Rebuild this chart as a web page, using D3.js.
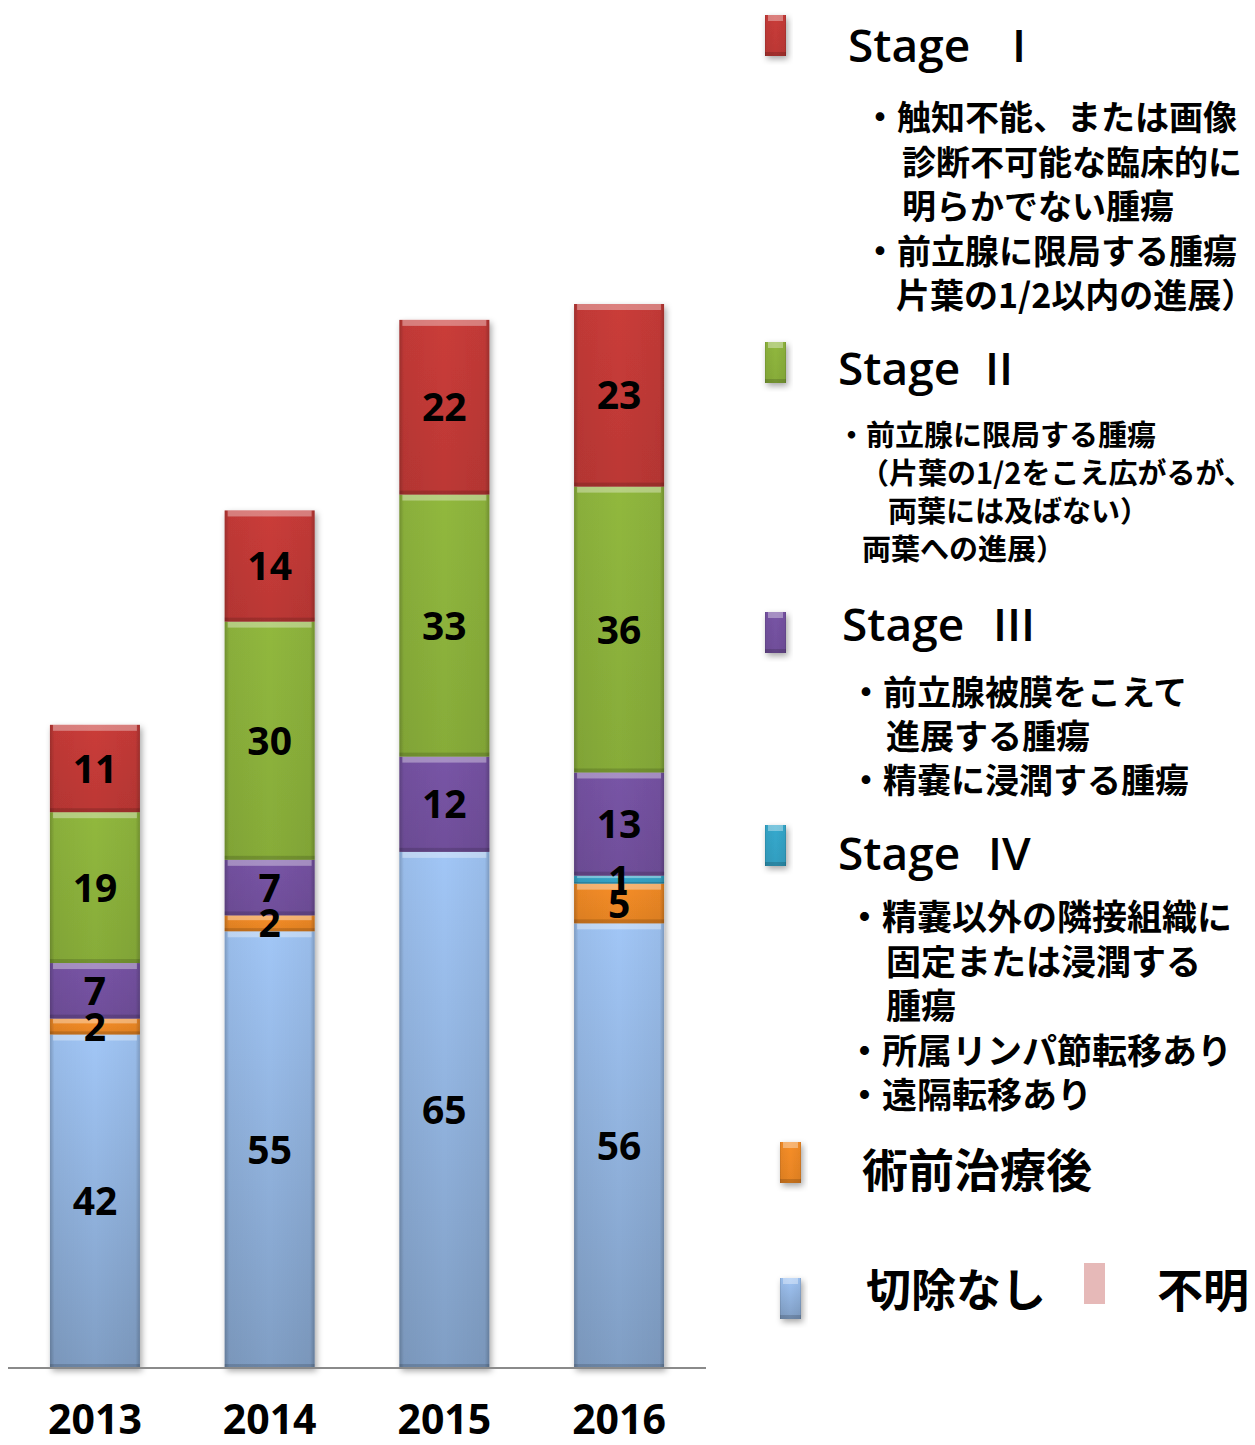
<!DOCTYPE html>
<html><head><meta charset="utf-8">
<script src="https://cdn.jsdelivr.net/npm/d3@7"></script>
<style>body{margin:0;background:#fff}svg{display:block}</style>
</head><body>
<script>
// ---------- DATA ----------
const years = ["2013", "2014", "2015", "2016"];
const seriesNames = ["切除なし", "術前治療後", "Stage IV", "Stage III", "Stage II", "Stage I", "不明"];
const noResection = [42, 55, 65, 56];
const preoperative = [2, 2, 0, 5];
const stage4 = [0, 0, 0, 1];
const stage3 = [7, 7, 12, 13];
const stage2 = [19, 30, 33, 36];
const stage1 = [11, 14, 22, 23];
const unknown = [0, 0, 0, 0];
const seriesValues = [noResection, preoperative, stage4, stage3, stage2, stage1, unknown];
const seriesColors = ["#93B5E1", "#F08A26", "#34A5C8", "#7552A1", "#8DB33C", "#C43A37", "#E6B9B8"];

const stageNumerals = ["I", "II", "III", "IV"];
const stage1Notes = ["・触知不能、または画像", "診断不可能な臨床的に", "明らかでない腫瘍", "・前立腺に限局する腫瘍", "片葉の1/2以内の進展）"];
const stage2Notes = ["・前立腺に限局する腫瘍", "（片葉の1/2をこえ広がるが、", "両葉には及ばない）", "両葉への進展）"];
const stage3Notes = ["・前立腺被膜をこえて", "進展する腫瘍", "・精嚢に浸潤する腫瘍"];
const stage4Notes = ["・精嚢以外の隣接組織に", "固定または浸潤する", "腫瘍", "・所属リンパ節転移あり", "・遠隔転移あり"];

// ---------- SETUP ----------
const W = 1255, H = 1445;
const svg = d3.select("body").append("svg").attr("width", W).attr("height", H);
const defs = svg.append("defs");

const rows = years.map((y, i) => {
  const r = { year: y };
  seriesNames.forEach((s, k) => r[s] = seriesValues[k][i]);
  return r;
});
const stacked = d3.stack().keys(seriesNames)(rows);

const x = d3.scaleBand().domain(years).range([7.5, 706.5]).paddingInner(0.485).paddingOuter(0.243);
const y = d3.scaleLinear().domain([0, 134]).range([1368, 304]);

// gradients
seriesColors.forEach((c, i) => {
  const g = defs.append("linearGradient").attr("id", "v" + i).attr("x1", 0).attr("y1", 0).attr("x2", 0).attr("y2", 1);
  const base = d3.color(c);
  const strong = i === 0;
  g.append("stop").attr("offset", 0).attr("stop-color", base.brighter(strong ? 0.25 : 0.08));
  g.append("stop").attr("offset", 1).attr("stop-color", base.darker(strong ? 0.38 : 0.12));
});
const he = defs.append("linearGradient").attr("id", "hEdge");
[[0, 0.22], [0.05, 0.05], [0.5, 0], [0.95, 0.05], [1, 0.22]].forEach(([o, a]) =>
  he.append("stop").attr("offset", o).attr("stop-color", "#000").attr("stop-opacity", a));
const flt = defs.append("filter").attr("id", "shadow").attr("x", "-20%").attr("y", "-10%").attr("width", "150%").attr("height", "130%");
flt.append("feDropShadow").attr("dx", 2).attr("dy", 3).attr("stdDeviation", 3).attr("flood-color", "#000").attr("flood-opacity", 0.35);

function bevelRect(g, x0, y0, w, h, colorIdx, flat) {
  g.append("rect").attr("x", x0).attr("y", y0).attr("width", w).attr("height", h)
    .attr("fill", flat ? seriesColors[colorIdx] : `url(#v${colorIdx})`);
  if (flat) return;
  g.append("rect").attr("x", x0).attr("y", y0).attr("width", w).attr("height", h).attr("fill", "url(#hEdge)");
  const th = Math.min(6, h * 0.3);
  g.append("rect").attr("x", x0 + 3).attr("y", y0).attr("width", w - 6).attr("height", th)
    .attr("fill", "#fff").attr("opacity", 0.35);
  const bh = Math.min(4, h * 0.2);
  g.append("rect").attr("x", x0).attr("y", y0 + h - bh).attr("width", w).attr("height", bh)
    .attr("fill", "#000").attr("opacity", 0.15);
}

// ---------- BARS ----------
const barsG = svg.append("g");
years.forEach(yr => {
  const bg = barsG.append("g").attr("filter", "url(#shadow)");
  stacked.forEach((layer, k) => {
    const d = layer.find(e => e.data.year === yr);
    const h = y(d[0]) - y(d[1]);
    if (h <= 0) return;
    bevelRect(bg, x(yr), y(d[1]), x.bandwidth(), h, k, false);
  });
});

// axis line
svg.append("line").attr("x1", 8).attr("x2", 706).attr("y1", y(0)).attr("y2", y(0))
  .attr("stroke", "#8a8a8a").attr("stroke-width", 2);

// value labels
const lblG = svg.append("g").attr("font-family", "'Open Sans', sans-serif").attr("font-weight", 700)
  .attr("font-size", 39).attr("text-anchor", "middle").attr("fill", "#000");
stacked.forEach(layer => {
  layer.forEach(d => {
    const v = d[1] - d[0];
    if (v <= 0) return;
    lblG.append("text").attr("x", x(d.data.year) + x.bandwidth() / 2)
      .attr("y", (y(d[0]) + y(d[1])) / 2 + 39 * 0.36).text(v);
  });
});

// year labels
svg.append("g").attr("font-family", "'Open Sans', sans-serif").attr("font-weight", 700)
  .attr("font-size", 41).attr("text-anchor", "middle")
  .selectAll("text").data(years).join("text")
  .attr("x", d => x(d) + x.bandwidth() / 2).attr("y", 1434).text(d => d);

// ---------- LEGEND ----------
const lg = svg.append("g");
const jp = "'Noto Sans CJK JP', sans-serif";
function marker(px, py, k, flat) {
  const g = lg.append("g");
  if (!flat) g.attr("filter", "url(#shadow)");
  bevelRect(g, px, py, 21, 41, k, flat);
}
function stageTitle(tx, ty, numX, num) {
  lg.append("text").attr("x", tx).attr("y", ty).attr("font-family", "'Open Sans', sans-serif")
    .attr("font-weight", 600).attr("font-size", 46).text("Stage");
  lg.append("text").attr("x", numX).attr("y", ty).attr("font-family", "'Open Sans', sans-serif")
    .attr("font-weight", 600).attr("font-size", 46).text(num);
}
function notes(lines, xs, y0, dy, fs) {
  lines.forEach((t, i) => {
    lg.append("text").attr("x", xs[i]).attr("y", y0 + i * dy).attr("font-family", jp)
      .attr("font-weight", 700).attr("font-size", fs).text(t);
  });
}
// Stage I
marker(765, 15, 5);
stageTitle(848, 62, 1012, stageNumerals[0]);
notes(stage1Notes, [863, 902, 902, 863, 896], 130, 44.5, 34);
// Stage II
marker(765, 342, 4);
stageTitle(838, 385, 985, stageNumerals[1]);
notes(stage2Notes, [837, 860, 888, 862], 446, 38, 29);
// Stage III
marker(765, 612, 3);
stageTitle(842, 641, 993, stageNumerals[2]);
notes(stage3Notes, [849, 886, 849], 705, 44, 34);
// Stage IV
marker(765, 825, 2);
stageTitle(838, 870, 988, stageNumerals[3]);
notes(stage4Notes, [847, 886, 886, 847, 847], 930, 44.5, 35);
// 術前治療後
marker(780, 1142, 1);
lg.append("text").attr("x", 862).attr("y", 1187).attr("font-family", jp).attr("font-weight", 700)
  .attr("font-size", 46).text(seriesNames[1]);
// 切除なし
marker(780, 1278, 0);
lg.append("text").attr("x", 866).attr("y", 1307).attr("font-family", jp).attr("font-weight", 700)
  .attr("font-size", 45).text(seriesNames[0]);
// 不明
marker(1084, 1263, 6, true);
lg.append("text").attr("x", 1157).attr("y", 1307).attr("font-family", jp).attr("font-weight", 700)
  .attr("font-size", 46).text(seriesNames[6]);
</script>
</body></html>
